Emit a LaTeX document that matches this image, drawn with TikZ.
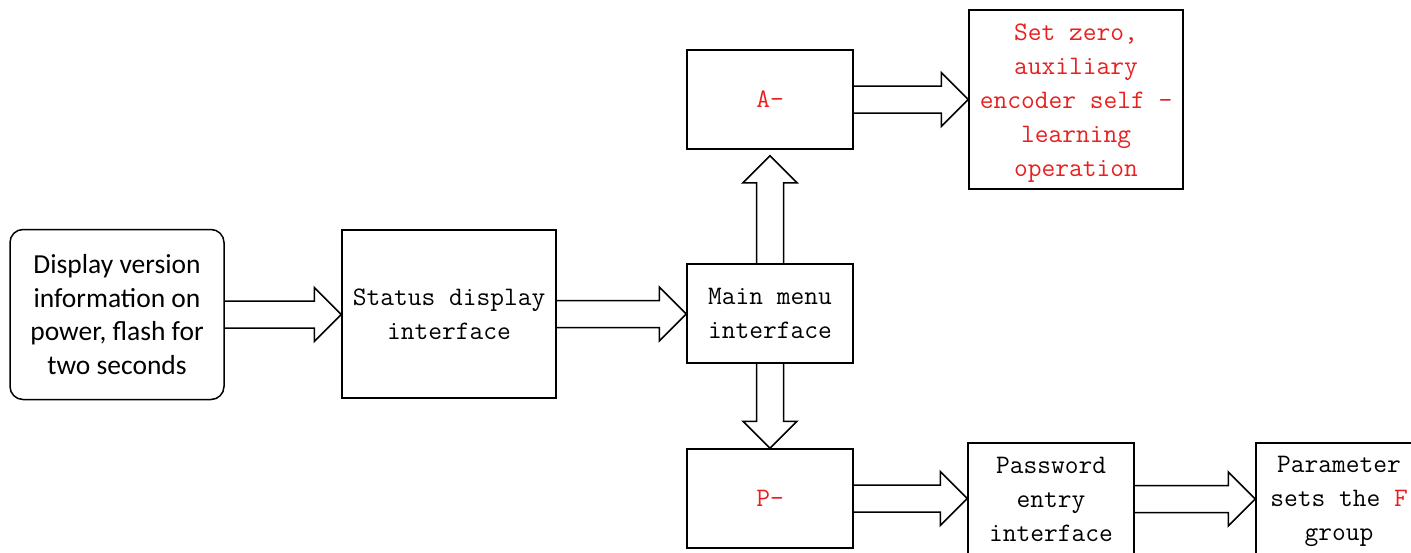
\documentclass[tikz,border=0pt]{standalone}
\usepackage{fontspec}
\newfontfamily\calfont{Carlito}
\usetikzlibrary{calc}
\definecolor{txtred}{RGB}{232,32,32}
\tikzset{
  blk/.style={draw=black, line width=1.5pt, inner sep=0pt, align=center,
    font=\ttfamily\fontsize{26.7}{34}\selectfont},
  fatstyle/.style={draw=black, line width=1.5pt, line join=miter}
}
\newcommand{\fatarr}[2]{%
  \coordinate (fa1) at (#1);
  \coordinate (fa2) at (#2);
  \coordinate (fah) at ($(fa2)!27pt!(fa1)$);
  \draw[fatstyle] ($(fa1)!13.5pt!90:(fa2)$) -- ($(fah)!13.5pt!90:(fa2)$)
    -- ($(fah)!27pt!90:(fa2)$) -- (fa2) -- ($(fah)!27pt!-90:(fa2)$)
    -- ($(fah)!13.5pt!-90:(fa2)$) -- ($(fa1)!13.5pt!-90:(fa2)$);
}
\begin{document}
\begin{tikzpicture}[x=1pt,y=-1pt]
\useasboundingbox (0,0) rectangle (1411,552);
\node[blk, rounded corners=13pt, minimum width=214pt, minimum height=170pt,
  font=\calfont\fontsize{27.5}{33.5}\selectfont] (left) at (117,314.5)
  {Display version\\information on\\power, flash for\\two seconds};
\node[blk, minimum width=214pt, minimum height=168pt] (status) at (449,314)
  {Status display\\interface};
\node[blk, minimum width=166pt, minimum height=99pt] (main) at (770,313.5)
  {Main menu\\interface};
\node[blk, minimum width=166pt, minimum height=99pt, text=txtred] (A) at (770,99.5)
  {A-};
\node[blk, minimum width=214pt, minimum height=179pt, text=txtred] (setzero) at (1076,99.5)
  {\rule{0pt}{23pt}Set zero,\\auxiliary\\encoder self -\\learning\\operation};
\node[blk, minimum width=166pt, minimum height=99pt, text=txtred] (P) at (770,498.5)
  {P-};
\node[blk, minimum width=166pt, minimum height=112pt] (password) at (1051,499)
  {Password\\entry\\interface};
\node[blk, minimum width=166pt, minimum height=112pt] (param) at (1339,499)
  {\rule{0pt}{21.5pt}Parameter\\sets the {\color{txtred}F}\\group};
\fatarr{left.east}{status.west |- left.east}
\fatarr{status.east}{main.west |- status.east}
\fatarr{main.north}{$(A.south)+(0,6)$}
\fatarr{main.south}{P.north}
\fatarr{A.east}{setzero.west |- A.east}
\fatarr{P.east}{password.west |- P.east}
\fatarr{password.east}{param.west}
\end{tikzpicture}
\end{document}
